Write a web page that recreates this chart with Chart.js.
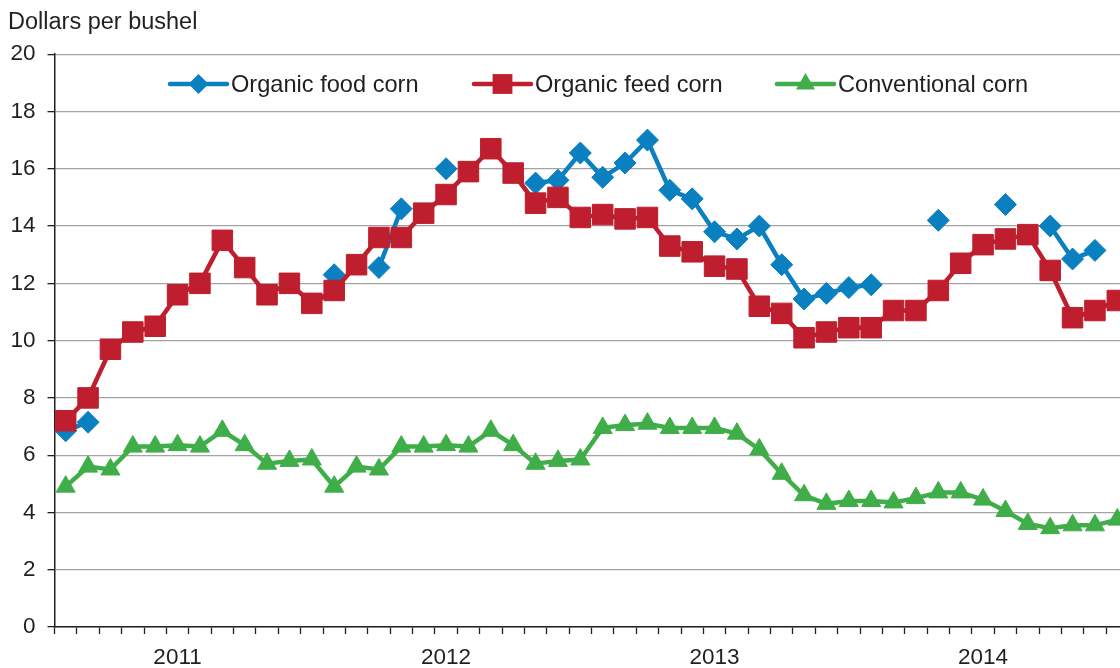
<!DOCTYPE html>
<html>
<head>
<meta charset="utf-8">
<script src="https://cdn.jsdelivr.net/npm/chart.js@4.4.0/dist/chart.umd.min.js"></script>
<style>
  html, body { margin: 0; padding: 0; overflow: hidden; background: #fff; width: 1120px; height: 668px; }
  #wrap { position: absolute; left: 0; top: 0; width: 1144px; height: 668px; }
</style>
</head>
<body>
<div id="wrap"><canvas id="c" width="1144" height="668"></canvas></div>
<script>
// ---- Data ----
const categories = [
  'Jan 2011','Feb 2011','Mar 2011','Apr 2011','May 2011','Jun 2011','Jul 2011','Aug 2011','Sep 2011','Oct 2011','Nov 2011','Dec 2011',
  'Jan 2012','Feb 2012','Mar 2012','Apr 2012','May 2012','Jun 2012','Jul 2012','Aug 2012','Sep 2012','Oct 2012','Nov 2012','Dec 2012',
  'Jan 2013','Feb 2013','Mar 2013','Apr 2013','May 2013','Jun 2013','Jul 2013','Aug 2013','Sep 2013','Oct 2013','Nov 2013','Dec 2013',
  'Jan 2014','Feb 2014','Mar 2014','Apr 2014','May 2014','Jun 2014','Jul 2014','Aug 2014','Sep 2014','Oct 2014','Nov 2014','Dec 2014'
];

const seriesNames = ['Organic food corn', 'Organic feed corn', 'Conventional corn'];

const organicFood = [
  6.85, 7.15, null, null, null, null, null, null, null, null, null, null,
  12.3, null, 12.55, 14.6, null, 16.0, null, null, null, 15.5, 15.6, 16.55,
  15.7, 16.2, 17.0, 15.25, 14.95, 13.8, 13.55, 14.0, 12.65, 11.45, 11.65, 11.85,
  11.95, null, null, 14.2, null, null, 14.75, null, 14.0, 12.85, 13.15, null
];

const organicFeed = [
  7.2, 8.0, 9.7, 10.3, 10.5, 11.6, 12.0, 13.5, 12.55, 11.6, 12.0, 11.3,
  11.75, 12.65, 13.6, 13.6, 14.45, 15.1, 15.9, 16.7, 15.85, 14.8, 15.0, 14.3,
  14.4, 14.25, 14.3, 13.3, 13.1, 12.6, 12.5, 11.2, 10.95, 10.1, 10.3, 10.45,
  10.45, 11.05, 11.05, 11.75, 12.7, 13.35, 13.55, 13.7, 12.45, 10.8, 11.05, 11.4
];

const conventional = [
  4.9, 5.6, 5.5, 6.3, 6.3, 6.35, 6.3, 6.85, 6.35, 5.7, 5.8, 5.85,
  4.9, 5.6, 5.5, 6.3, 6.3, 6.35, 6.3, 6.85, 6.35, 5.7, 5.8, 5.85,
  6.95, 7.05, 7.1, 6.95, 6.95, 6.95, 6.75, 6.2, 5.35, 4.6, 4.3, 4.4,
  4.4, 4.35, 4.5, 4.7, 4.7, 4.45, 4.05, 3.6, 3.45, 3.55, 3.55, 3.75
];

const yTitle = 'Dollars per bushel';

// ---- Styling ----
const BLUE = '#0a80c0';
const RED = '#be1e2d';
const GREEN = '#3fae49';
const INK = '#231f20';
const FONT = '"Liberation Sans", Arial, Helvetica, sans-serif';

Chart.defaults.font.family = FONT;
Chart.defaults.color = INK;

function drawMarker(ctx, style, x, y, r) {
  ctx.beginPath();
  if (style === 'rectRot') {
    ctx.moveTo(x, y - r); ctx.lineTo(x + r, y); ctx.lineTo(x, y + r); ctx.lineTo(x - r, y);
  } else if (style === 'rect') {
    const s = r * Math.SQRT1_2;
    ctx.rect(x - s, y - s, 2 * s, 2 * s);
  } else if (style === 'triangle') {
    ctx.moveTo(x, y - r);
    ctx.lineTo(x + 0.866 * r, y + 0.5 * r);
    ctx.lineTo(x - 0.866 * r, y + 0.5 * r);
  }
  ctx.closePath();
  ctx.fill();
}

const insideLegend = {
  id: 'insideLegend',
  afterDraw(chart, args, opts) {
    const ctx = chart.ctx;
    chart.data.datasets.forEach((ds, i) => {
      const x0 = opts.starts[i];
      const y = opts.y;
      const len = opts.lineLength;
      ctx.save();
      ctx.strokeStyle = ds.borderColor;
      ctx.fillStyle = ds.borderColor;
      ctx.lineWidth = 4.5;
      ctx.lineCap = 'round';
      ctx.beginPath();
      ctx.moveTo(x0, y);
      ctx.lineTo(x0 + len, y);
      ctx.stroke();
      drawMarker(ctx, ds.pointStyle, x0 + len / 2, y, opts.markerRadius[i]);
      ctx.fillStyle = INK;
      ctx.font = opts.fontSize + 'px ' + FONT;
      ctx.textBaseline = 'middle';
      ctx.textAlign = 'left';
      ctx.fillText(ds.label, x0 + len + 4, y + 1);
      ctx.restore();
    });
  }
};

new Chart(document.getElementById('c'), {
  type: 'line',
  data: {
    labels: categories,
    datasets: [
      {
        label: seriesNames[0], data: organicFood,
        borderColor: BLUE, backgroundColor: BLUE,
        pointBackgroundColor: BLUE, pointBorderColor: BLUE, pointBorderWidth: 1,
        pointStyle: 'rectRot', pointRadius: 11,
        borderWidth: 4.5, tension: 0, spanGaps: false, order: 1, clip: 0
      },
      {
        label: seriesNames[1], data: organicFeed,
        borderColor: RED, backgroundColor: RED,
        pointBackgroundColor: RED, pointBorderColor: RED, pointBorderWidth: 1,
        pointStyle: 'rect', pointRadius: 14.5,
        borderWidth: 4.5, tension: 0, order: 0, clip: 0
      },
      {
        label: seriesNames[2], data: conventional,
        borderColor: GREEN, backgroundColor: GREEN,
        pointBackgroundColor: GREEN, pointBorderColor: GREEN, pointBorderWidth: 1,
        pointStyle: 'triangle', pointRadius: 11,
        borderWidth: 4.5, tension: 0, order: 2, clip: 0
      }
    ]
  },
  options: {
    responsive: false,
    animation: false,
    layout: { padding: { left: 8, right: 0, top: 0, bottom: 0 } },
    plugins: {
      legend: { display: false },
      tooltip: { enabled: false },
      title: {
        display: true, text: yTitle, align: 'start', color: INK,
        font: { size: 23.5, weight: 'normal' },
        padding: { top: 8, bottom: 18 }
      },
      insideLegend: {
        starts: [170, 474, 777], y: 84, lineLength: 57,
        markerRadius: [10, 14, 11], fontSize: 23.6
      }
    },
    scales: {
      x: {
        type: 'category',
        offset: true,
        grid: {
          offset: true, drawOnChartArea: false, drawTicks: true,
          tickLength: 7, tickColor: INK, tickWidth: 1.3
        },
        border: { display: true, color: INK, width: 1.5 },
        ticks: {
          autoSkip: false, maxRotation: 0, minRotation: 0, padding: 10,
          color: INK, font: { size: 22.5 },
          callback: (v, i) => categories[i].startsWith('Jun') ? categories[i].slice(4) : ''
        },
        afterFit: (s) => { s.height = 41; }
      },
      y: {
        min: 0, max: 20,
        ticks: { stepSize: 2, padding: 12, color: INK, font: { size: 22.5 } },
        grid: { color: '#a3a3a3', lineWidth: 1.3, tickLength: 7, tickColor: INK, tickWidth: 1.3 },
        border: { display: true, color: INK, width: 1.5 },
        afterFit: (s) => { s.width = 46.5; }
      }
    }
  },
  plugins: [insideLegend]
});
</script>
</body>
</html>
